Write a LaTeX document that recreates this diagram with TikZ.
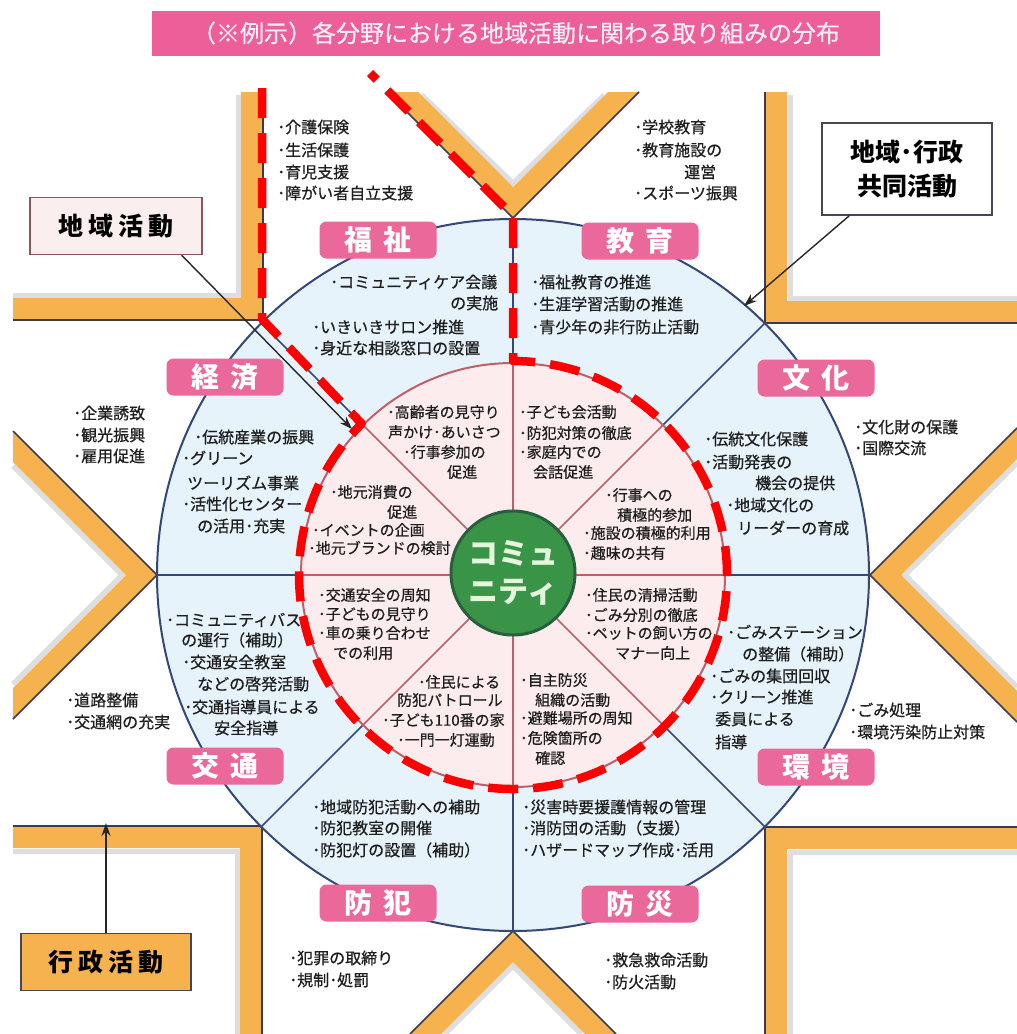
\documentclass[tikz,border=0pt]{standalone}
\usepackage{fontspec}
\setmainfont{Noto Sans CJK JP}
\newfontfamily\itf{Noto Sans CJK JP}[FakeBold=0.6]
\usetikzlibrary{arrows.meta}
\definecolor{orng}{RGB}{245,178,78}
\definecolor{edgec}{RGB}{60,58,80}
\definecolor{ringfill}{RGB}{230,243,251}
\definecolor{ringline}{RGB}{52,72,120}
\definecolor{innerfill}{RGB}{252,236,238}
\definecolor{innerline}{RGB}{190,95,105}
\definecolor{hubfill}{RGB}{58,148,72}
\definecolor{hubline}{RGB}{40,96,62}
\definecolor{hubtext}{RGB}{228,246,220}
\definecolor{labpink}{RGB}{234,104,154}
\definecolor{titlepink}{RGB}{236,95,152}
\definecolor{titletext}{RGB}{255,236,245}
\definecolor{txtc}{RGB}{30,30,30}
\definecolor{redd}{RGB}{255,0,0}
\definecolor{chfill}{RGB}{251,238,238}
\definecolor{chline}{RGB}{140,85,95}
\definecolor{boxline}{RGB}{70,70,85}
\definecolor{shade}{RGB}{200,200,205}
\newcounter{tl}
\newcommand\tli[4][item]{\stepcounter{tl}\node[#1] (tl\arabic{tl}) at (#2,#3) {#4};}
\begin{document}
\begin{tikzpicture}[x=1pt,y=-1pt,
  item/.style={font=\itf\fontsize{16}{18}\selectfont,text=txtc,inner sep=0pt,anchor=west},
  itemi/.style={item,font=\itf\fontsize{15}{18}\selectfont},
  lab/.style={fill=labpink,rounded corners=7pt,minimum width=117pt,minimum height=37pt,inner sep=0pt,text=white,font=\fontsize{28}{30}\selectfont\bfseries},
  band/.style={fill=orng},
  bshade/.style={draw=shade,line width=5pt,opacity=0.6},
  bedge/.style={draw=edgec,line width=1.5pt},
  arr/.style={draw=black!85,line width=1.4pt,-{Stealth[length=13pt,width=9pt]}},
  reddash/.style={draw=redd,line width=8.5pt,dash pattern=on 30pt off 15pt,line join=round}]
\useasboundingbox (0,0) rectangle (1017,1034);
\fill[white] (0,0) rectangle (1017,1034);

% soft shadows on the inner side of the bands
\draw[bshade] (13,295) -- (238,295) -- (238,95);
\draw[bshade] (1017,298) -- (790,298) -- (790,95);
\draw[bshade] (13,851) -- (237,851) -- (237,1034);
\draw[bshade] (1017,852) -- (790,852) -- (790,1034);
\draw[bshade] (422,95) -- (513,183) -- (604,95);
\draw[bshade] (445,1034) -- (513,966) -- (581,1034);
\draw[bshade] (13,466) -- (122,575) -- (13,684);
\draw[bshade] (1017,463) -- (905,575) -- (1017,687);

% orange frame bands
\fill[band] (13,320) -- (263,320) -- (263,92) -- (241,92) -- (241,298) -- (13,298) -- cycle;
\draw[bedge] (13,320) -- (263,320) -- (263,92);
\fill[band] (1017,323) -- (765,323) -- (765,92) -- (787,92) -- (787,301) -- (1017,301) -- cycle;
\draw[bedge] (1017,323) -- (765,323) -- (765,92);
\fill[band] (13,826) -- (262,826) -- (262,1034) -- (240,1034) -- (240,848) -- (13,848) -- cycle;
\draw[bedge] (13,826) -- (262,826) -- (262,1034);
\fill[band] (1017,827) -- (765,827) -- (765,1034) -- (787,1034) -- (787,849) -- (1017,849) -- cycle;
\draw[bedge] (1017,827) -- (765,827) -- (765,1034);
\fill[band] (387,92) -- (513,218) -- (639,92) -- (608,92) -- (513,187) -- (418,92) -- cycle;
\draw[bedge] (387,92) -- (513,218) -- (639,92);
\fill[band] (410,1034) -- (513,931) -- (616,1034) -- (585,1034) -- (513,962) -- (441,1034) -- cycle;
\draw[bedge] (410,1034) -- (513,931) -- (616,1034);
\fill[band] (13,431) -- (157,575) -- (13,719) -- (13,688) -- (126,575) -- (13,462) -- cycle;
\draw[bedge] (13,431) -- (157,575) -- (13,719);
\fill[band] (1017,428) -- (870,575) -- (1017,722) -- (1017,691) -- (901,575) -- (1017,459) -- cycle;
\draw[bedge] (1017,428) -- (870,575) -- (1017,722);

% circles
\node[circle,fill=ringfill,draw=ringline,line width=2pt,minimum size=712pt,inner sep=0pt] (ring) at (513,575) {};
\foreach \a in {0,45,...,315} \draw[ringline,line width=1.6pt] (ring.center) -- (ring.\a);
\node[circle,fill=innerfill,draw=innerline,line width=2pt,minimum size=424pt,inner sep=0pt] (inner) at (513,575) {};
\foreach \a in {0,45,...,315} \draw[innerline,line width=1.6pt] (inner.center) -- (inner.\a);
\node[circle,fill=hubfill,draw=hubline,line width=3pt,minimum size=124pt,inner sep=0pt,align=center,text=hubtext,font=\fontsize{30}{38}\selectfont\bfseries] (hub) at (513,573) {コミュ\\ニティ};

% field labels
\node[lab] (Lfukushi) at (378,240) {福\hspace{0.4em}祉};
\node[lab] (Lkyoiku) at (640,241) {教\hspace{0.4em}育};
\node[lab] (Lkeizai) at (225,377) {経\hspace{0.4em}済};
\node[lab] (Lbunka) at (816,378) {文\hspace{0.4em}化};
\node[lab] (Lkotsu) at (225,766) {交\hspace{0.4em}通};
\node[lab] (Lkankyo) at (816,767) {環\hspace{0.4em}境};
\node[lab] (Lbohan) at (378,903) {防\hspace{0.4em}犯};
\node[lab] (Lbosai) at (640,904) {防\hspace{0.4em}災};

% outer (administrative) items
\tli{277}{127}{･介護保険}
\tli{277}{150}{･生活保護}
\tli{277}{172}{･育児支援}
\tli{277}{193}{･障がい者自立支援}
\tli{634}{127}{･学校教育}
\tli{634}{150}{･教育施設の}
\tli{684}{172}{運営}
\tli{634}{193}{･スポーツ振興}
\tli{73}{413}{･企業誘致}
\tli{73}{435}{･観光振興}
\tli{73}{456}{･雇用促進}
\tli{854}{427}{･文化財の保護}
\tli{854}{448}{･国際交流}
\tli{66}{700}{･道路整備}
\tli{66}{722}{･交通網の充実}
\tli{849}{710}{･ごみ処理}
\tli{849}{732}{･環境汚染防止対策}
\tli{289}{958}{･犯罪の取締り}
\tli{289}{980}{･規制･処罰}
\tli{604}{960}{･救急救命活動}
\tli{604}{982}{･防火活動}

% ring (joint) items
\tli{330}{282}{･コミュニティケア会議}
\tli{450}{303}{の実施}
\tli{312}{327}{･いきいきサロン推進}
\tli{312}{348}{･身近な相談窓口の設置}
\tli{531}{282}{･福祉教育の推進}
\tli{531}{304}{･生涯学習活動の推進}
\tli{531}{327}{･青少年の非行防止活動}
\tli{194}{437}{･伝統産業の振興}
\tli{182}{458}{･グリーン}
\tli{187}{483}{ツーリズム事業}
\tli{182}{504}{･活性化センター}
\tli{197}{526}{の活用･充実}
\tli{704}{439}{･伝統文化保護}
\tli{704}{462}{･活動発表の}
\tli{755}{483}{機会の提供}
\tli{726}{505}{･地域文化の}
\tli{737}{528}{リーダーの育成}
\tli{166}{620}{･コミュニティバス}
\tli{181}{640}{の運行（補助）}
\tli{182}{662}{･交通安全教室}
\tli{197}{684}{などの啓発活動}
\tli{184}{707}{･交通指導員による}
\tli{214}{728}{安全指導}
\tli{727}{632}{･ごみステーション}
\tli{742}{654}{の整備（補助）}
\tli{710}{676}{･ごみの集団回収}
\tli{710}{697}{･クリーン推進}
\tli{715}{719}{委員による}
\tli{715}{742}{指導}
\tli{312}{807}{･地域防犯活動への補助}
\tli{312}{828}{･防犯教室の開催}
\tli{312}{850}{･防犯灯の設置（補助）}
\tli{522}{807}{･災害時要援護情報の管理}
\tli{522}{828}{･消防団の活動（支援）}
\tli{522}{850}{･ハザードマップ作成･活用}

% inner (community) items
\tli[itemi]{387}{412}{･高齢者の見守り}
\tli[itemi]{388}{432}{声かけ･あいさつ}
\tli[itemi]{403}{452}{･行事参加の}
\tli[itemi]{447}{472}{促進}
\tli[itemi]{519}{412}{･子ども会活動}
\tli[itemi]{519}{433}{･防犯対策の徹底}
\tli[itemi]{519}{452}{･家庭内での}
\tli[itemi]{533}{472}{会話促進}
\tli[itemi]{605}{495}{･行事への}
\tli[itemi]{617}{515}{積極的参加}
\tli[itemi]{583}{533}{･施設の積極的利用}
\tli[itemi]{583}{553}{･趣味の共有}
\tli[itemi]{330}{492}{･地元消費の}
\tli[itemi]{387}{512}{促進}
\tli[itemi]{312}{530}{･イベントの企画}
\tli[itemi]{308}{548}{･地元ブランドの検討}
\tli[itemi]{318}{595}{･交通安全の周知}
\tli[itemi]{318}{614}{･子どもの見守り}
\tli[itemi]{318}{633}{･車の乗り合わせ}
\tli[itemi]{333}{653}{での利用}
\tli[itemi]{418}{682}{･住民による}
\tli[itemi]{397}{700}{防犯パトロール}
\tli[itemi]{382}{720}{･子ども110番の家}
\tli[itemi]{397}{740}{･一門一灯運動}
\tli[itemi]{520}{680}{･自主防災}
\tli[itemi]{535}{700}{組織の活動}
\tli[itemi]{520}{718}{･避難場所の周知}
\tli[itemi]{520}{738}{･危険箇所の}
\tli[itemi]{535}{758}{確認}
\tli[itemi]{585}{595}{･住民の清掃活動}
\tli[itemi]{585}{615}{･ごみ分別の徹底}
\tli[itemi]{585}{633}{･ペットの飼い方の}
\tli[itemi]{615}{653}{マナー向上}

% callouts
\node[draw=chline,fill=chfill,line width=1.5pt,minimum width=172pt,minimum height=57pt,inner sep=0pt,font=\fontsize{25}{28}\selectfont\bfseries] (chiiki) at (116,226) {地\hspace{0.2em}域\hspace{0.2em}活\hspace{0.2em}動};
\node[draw=boxline,fill=white,line width=1.5pt,minimum width=170pt,minimum height=92pt,inner sep=0pt,align=center,font=\fontsize{25}{34}\selectfont\bfseries] (kyodo) at (907,169) {地域･行政\\共同活動};
\node[draw=boxline,fill=orng,line width=1.5pt,minimum width=170pt,minimum height=57pt,inner sep=0pt,font=\fontsize{25}{28}\selectfont\bfseries] (gyosei) at (106,962) {行\hspace{0.2em}政\hspace{0.2em}活\hspace{0.2em}動};
\coordinate (tipA) at (352,429);
\coordinate (tipB) at (744,306);
\coordinate (tipC) at (106,823);
\draw[arr] (chiiki.-24) -- (tipA);
\draw[arr] (kyodo.219) -- (tipB);
\draw[arr] (gyosei.north) -- (tipC);

% title
\node[fill=titlepink,minimum width=728pt,minimum height=45pt,inner sep=0pt,text=titletext,font=\itf\fontsize{24}{26}\selectfont] (title) at (516,33) {（※例示）各分野における地域活動に関わる取り組みの分布};

% red dashed overlay
\draw[reddash] (262,88) -- (262,319) -- (361.7,423.7) arc[start angle=225,end angle=-90,radius=214] -- (513,216) -- (370,73);
\end{tikzpicture}
\end{document}
